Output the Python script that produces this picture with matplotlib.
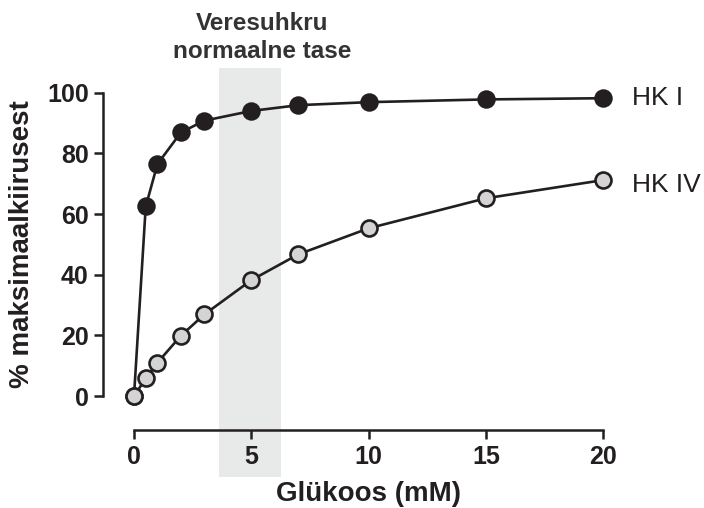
import matplotlib.pyplot as plt
from matplotlib.patches import Rectangle

glucose = [0, 0.5, 1, 2, 3, 5, 7, 10, 15, 20]
hk1 = [0, 62.5, 76.5, 86.9, 90.8, 94.0, 95.9, 96.9, 97.8, 98.2]
hk4 = [0, 5.8, 11.0, 19.9, 26.9, 38.2, 46.7, 55.3, 65.2, 71.2]
band = (3.64, 6.27)
xticks = [0, 5, 10, 15, 20]
yticks = [0, 20, 40, 60, 80, 100]

dark = '#231f20'
plt.rcParams['font.family'] = ['Liberation Sans', 'DejaVu Sans']

fig = plt.figure(figsize=(7.04, 5.08), dpi=100)
ax = fig.add_axes([102.7 / 704, 78 / 508, (620 - 102.7) / 704, (430 - 60) / 508])
ax.set_xlim(-1.335, 20.72)
ax.set_ylim(-11.2, 110.8)

# shaded band for the normal blood sugar range, runs past the axes
ax.add_patch(Rectangle((band[0], -26.7), band[1] - band[0], 108.1 + 26.7,
                       facecolor='#e8eaea', edgecolor='none', zorder=0, clip_on=False))

ax.plot(glucose, hk1, '-o', color=dark, lw=1.9, ms=11.5, mfc=dark, mec=dark, mew=1.8,
        zorder=3, clip_on=False)
ax.plot(glucose, hk4, '-o', color=dark, lw=1.9, ms=11.5, mfc='#d4d4d4', mec=dark, mew=1.9,
        zorder=4, clip_on=False)

for s in ['top', 'right']:
    ax.spines[s].set_visible(False)
for s in ['left', 'bottom']:
    ax.spines[s].set_linewidth(1.8)
    ax.spines[s].set_color(dark)
ax.spines['left'].set_bounds(0, 100)
ax.spines['bottom'].set_bounds(0, 20)
ax.set_xticks(xticks)
ax.set_yticks(yticks)
ax.tick_params(width=1.8, length=6.5, color=dark, labelsize=18, labelcolor=dark)
ax.tick_params(axis='x', pad=4)
ax.tick_params(axis='y', pad=3.5)
for lab in ax.get_xticklabels() + ax.get_yticklabels():
    lab.set_fontweight('bold')

ax.set_xlabel('Glükoos (mM)', fontsize=20, fontweight='bold', color=dark)
ax.xaxis.set_label_coords(0.513, -0.173)
ax.xaxis.label.set_va('center')
ax.set_ylabel('% maksimaalkiirusest', fontsize=20, fontweight='bold', color=dark)
ax.yaxis.set_label_coords(-0.156, 0.503)
ax.yaxis.label.set_va('center')

ax.text(21.25, 98.3, 'HK I', fontsize=19, va='center', ha='left', color=dark)
ax.text(21.25, 69.6, 'HK IV', fontsize=19, va='center', ha='left', color=dark)
ax.text(5.46, 118.3, 'Veresuhkru\nnormaalne tase', fontsize=17.5, fontweight='bold',
        ha='center', va='center', color='#333333', linespacing=1.3)

fig.savefig('out.png', dpi=100)
